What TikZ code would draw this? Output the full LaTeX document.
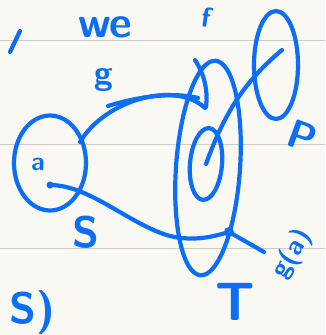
\documentclass[tikz,border=0pt]{standalone}
\usepackage{tikz}
\usetikzlibrary{positioning, calc, shapes.geometric}
\usepackage{xcolor}
\definecolor{inkBlue}{RGB}{12, 110, 245}
\definecolor{paper}{RGB}{250, 248, 242}
\definecolor{ruleGray}{RGB}{205, 203, 198}

\newcommand{\inkfont}[1]{\sffamily\bfseries\fontsize{#1}{#1}\selectfont}

\tikzset{
  ink/.style={draw=inkBlue, line width=4.2pt, line cap=round, line join=round},
  inktext/.style={text=inkBlue, inner sep=0pt},
}

\begin{document}
\begin{tikzpicture}[x=1pt, y=-1pt]
    %% ── paper and ruled lines ────────────────────────────────────────
    \useasboundingbox[fill=paper] (0,0) rectangle (325,335);
    \foreach \ry in {40,144,248}
      \draw[ruleGray, line width=0.8pt] (0,\ry) -- (325,\ry);

    %% ── words at the top ─────────────────────────────────────────────
    \draw[ink] (20,31) -- (10,52);
    \node[inktext, font=\inkfont{44}] (we) at (105,27) {we};
    \node[inktext, font=\inkfont{28}, rotate=-8] (fLabel) at (207,17) {f};

    %% ── left set (domain) ───────────────────────────────────────────
    \node[ink, ellipse, minimum width=72pt, minimum height=95pt] (setA) at (50,163) {};
    \node[inktext, font=\inkfont{26}] (aLabel) at (38,164) {a};
    \coordinate (ptA) at (50,185);
    \fill[inkBlue] (ptA) circle (3.5pt);

    %% ── middle set and inner zero ───────────────────────────────────
    \node[ink, ellipse, minimum width=64pt, minimum height=215pt, rotate=-4] (setB) at (208,168) {};
    \node[ink, ellipse, minimum width=32pt, minimum height=72pt, rotate=-5] (zeroSet) at (206,164) {};
    \draw[ink] (195,60) .. controls (205,75) and (208,92) .. (206,107);
    \coordinate (ptT) at (229,232);
    \fill[inkBlue] (ptT) circle (5pt);

    %% ── right set P ─────────────────────────────────────────────────
    \node[ink, ellipse, minimum width=44pt, minimum height=108pt] (setP) at (276,65) {};
    \node[inktext, font=\inkfont{40}, rotate=-20] (pLabel) at (302,136) {P};

    %% ── maps ────────────────────────────────────────────────────────
    % g: arc from the left set over to the middle set
    \coordinate (gEnd) at (205,108);
    \draw[ink] (80,142) .. controls (105,100) and (175,80) .. (gEnd);
    \draw[ink] (108,106) .. controls (140,96) and (175,92) .. (198,98);
    \node[inktext, font=\inkfont{34}] (gLabel) at (104,80) {g};
    % stroke from the zero set up into P
    \draw[ink] (zeroSet.center) .. controls (222,120) and (240,85) .. (282,50);
    % S: curve from a down to the dot
    \draw[ink] (ptA) .. controls (90,185) and (130,225) .. (170,236)
                     .. controls (195,242) and (215,236) .. (ptT);
    \coordinate (tEnd) at (264,252);
    \draw[ink] (ptT) -- (tEnd);
    \node[inktext, font=\inkfont{44}] (sLabel) at (86,232) {S};

    %% ── bottom labels ───────────────────────────────────────────────
    \node[inktext, font=\inkfont{54}] (tLabel) at (235,302) {T};
    \node[inktext, font=\inkfont{27}, rotate=60] (gaLabel) at (292,254) {g(a)};
    \node[inktext, font=\inkfont{44}] (bottomS) at (32,312) {S)};
  \end{tikzpicture}
\end{document}
